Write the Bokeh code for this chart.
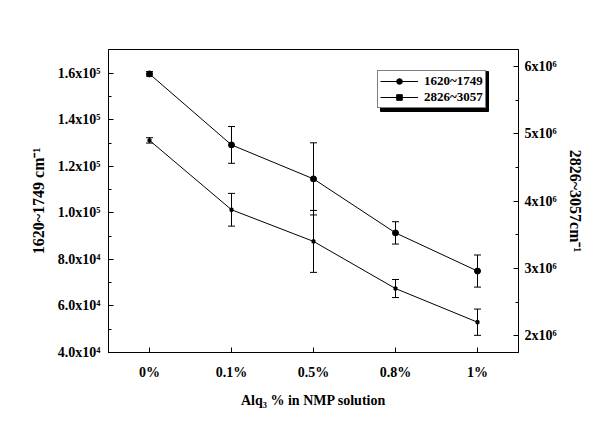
from bokeh.plotting import figure
from bokeh.models import (Range1d, FactorRange, LinearAxis, FixedTicker, Whisker,
                          ColumnDataSource, Legend, LegendItem, TeeHead, BoxAnnotation)
from bokeh.embed import file_html
from bokeh.resources import INLINE

# ---- data ----
categories = ["0%", "0.1%", "0.5%", "0.8%", "1%"]
s1_label = "1620~1749"
s1_values = [159700, 129200, 114600, 91400, 75000]
s1_errors = [1000, 7900, 15500, 4800, 6900]
s2_label = "2826~3057"
s2_values = [4.90e6, 3.87e6, 3.40e6, 2.70e6, 2.20e6]
s2_errors = [0.04e6, 0.243e6, 0.46e6, 0.134e6, 0.195e6]

left_ticks = [40000, 60000, 80000, 100000, 120000, 140000, 160000]
left_tick_labels = ["4.0x10⁴", "6.0x10⁴", "8.0x10⁴", "1.0x10⁵", "1.2x10⁵", "1.4x10⁵", "1.6x10⁵"]
right_ticks = [2e6, 3e6, 4e6, 5e6, 6e6]
right_tick_labels = ["2x10⁶", "3x10⁶", "4x10⁶", "5x10⁶", "6x10⁶"]

x_title = "Alq₃ % in NMP solution"
left_title = "1620~1749 cm⁻¹"
right_title = "2826~3057cm⁻¹"

FONT = "Liberation Serif"

# layout (pixels)
W, H = 602, 422
F_LEFT, F_RIGHT, F_TOP, F_BOTTOM = 108, 518, 49, 352
Y0, Y1 = 40000, 170200

p = figure(width=W, height=H,
           x_range=FactorRange(*categories, range_padding=0),
           y_range=Range1d(Y0, Y1),
           output_backend="svg", toolbar_location=None,
           min_border_left=F_LEFT, min_border_right=W - F_RIGHT,
           min_border_top=F_TOP, min_border_bottom=H - F_BOTTOM)
p.extra_y_ranges = {"right": Range1d(1.75e6, 6.25e6)}
p.xgrid.visible = False
p.ygrid.visible = False
p.outline_line_color = "black"
p.outline_line_width = 1
p.background_fill_color = "white"
p.border_fill_color = "white"


def mids(t):
    return [(a + b) / 2 for a, b in zip(t[:-1], t[1:])]


def style_axis(ax):
    ax.axis_line_color = "black"
    ax.major_tick_in = 5
    ax.major_tick_out = 0
    ax.minor_tick_in = 3
    ax.minor_tick_out = 0
    ax.major_tick_line_color = "black"
    ax.minor_tick_line_color = "black"
    ax.major_label_text_font = FONT
    ax.major_label_text_font_style = "bold"
    ax.major_label_text_font_size = "14px"
    ax.major_label_text_color = "black"
    ax.axis_label_text_font = FONT
    ax.axis_label_text_font_style = "bold"
    ax.axis_label_text_color = "black"


# left axis
ly = p.yaxis[0]
ly.ticker = FixedTicker(ticks=left_ticks, minor_ticks=mids(left_ticks))
ly.major_label_overrides = dict(zip(left_ticks, left_tick_labels))
ly.axis_label = left_title
style_axis(ly)
ly.axis_label_text_font_size = "16px"
ly.major_label_standoff = 8
ly.axis_label_standoff = 8

# right axis
ry = LinearAxis(y_range_name="right")
ry.ticker = FixedTicker(ticks=right_ticks, minor_ticks=mids(right_ticks))
ry.major_label_overrides = dict(zip(right_ticks, right_tick_labels))
ry.axis_label = right_title
style_axis(ry)
ry.axis_label_text_font_size = "16px"
ry.major_label_standoff = 6
ry.axis_label_standoff = 7
p.add_layout(ry, "right")

# bottom axis
bx = p.xaxis[0]
style_axis(bx)
bx.axis_label = x_title
bx.axis_label_text_font_size = "14px"
bx.major_label_standoff = 12
bx.axis_label_standoff = 10

# series 1 (left axis)
src1 = ColumnDataSource(dict(
    x=categories, y=s1_values,
    lower=[v - e for v, e in zip(s1_values, s1_errors)],
    upper=[v + e for v, e in zip(s1_values, s1_errors)]))
l1 = p.line("x", "y", source=src1, line_color="black", line_width=1)
c1 = p.scatter("x", "y", source=src1, marker="circle", size=6,
               fill_color="black", line_color="black")
w1 = Whisker(source=src1, base="x", upper="upper", lower="lower", dimension="height",
             line_color="black", line_width=1,
             upper_head=TeeHead(size=7, line_color="black", line_width=1),
             lower_head=TeeHead(size=7, line_color="black", line_width=1))
p.add_layout(w1)

# series 2 (right axis)
src2 = ColumnDataSource(dict(
    x=categories, y=s2_values,
    lower=[v - e for v, e in zip(s2_values, s2_errors)],
    upper=[v + e for v, e in zip(s2_values, s2_errors)]))
l2 = p.line("x", "y", source=src2, line_color="black", line_width=1, y_range_name="right")
c2 = p.scatter("x", "y", source=src2, marker="square", size=3,
               fill_color="black", line_color="black", y_range_name="right")
w2 = Whisker(source=src2, base="x", upper="upper", lower="lower", dimension="height",
             line_color="black", line_width=1, y_range_name="right",
             upper_head=TeeHead(size=7, line_color="black", line_width=1),
             lower_head=TeeHead(size=7, line_color="black", line_width=1))
p.add_layout(w2)

# legend box geometry (pixels from canvas top-left)
LG_LEFT, LG_BOTTOM = 377, 108
LG_W, LG_H = 108, 40
SHADOW = 3


def px_to_x(px):
    return (px - F_LEFT) / (F_RIGHT - F_LEFT) * len(categories)


def py_to_y(py):
    return Y0 + (F_BOTTOM - py) / (F_BOTTOM - F_TOP) * (Y1 - Y0)


shadow = BoxAnnotation(left=px_to_x(LG_LEFT + SHADOW), right=px_to_x(LG_LEFT + LG_W + SHADOW),
                       top=py_to_y(LG_BOTTOM - LG_H + SHADOW), bottom=py_to_y(LG_BOTTOM + SHADOW),
                       fill_color="black", fill_alpha=1, line_color="black", line_alpha=1)
p.add_layout(shadow)

items = [LegendItem(label=s1_label, renderers=[l1, c1]),
         LegendItem(label=s2_label, renderers=[l2, c2])]
legend = Legend(items=items, location=(LG_LEFT - F_LEFT, F_BOTTOM - LG_BOTTOM),
                orientation="vertical", padding=2, spacing=0, margin=0,
                glyph_width=38, glyph_height=14, label_height=14,
                label_standoff=6, label_text_font=FONT,
                label_text_font_style="bold", label_text_font_size="13px",
                label_text_color="black",
                border_line_color="black", border_line_width=1,
                background_fill_color="white", background_fill_alpha=1)
p.add_layout(legend)

open("out.html", "w").write(file_html(p, INLINE))
